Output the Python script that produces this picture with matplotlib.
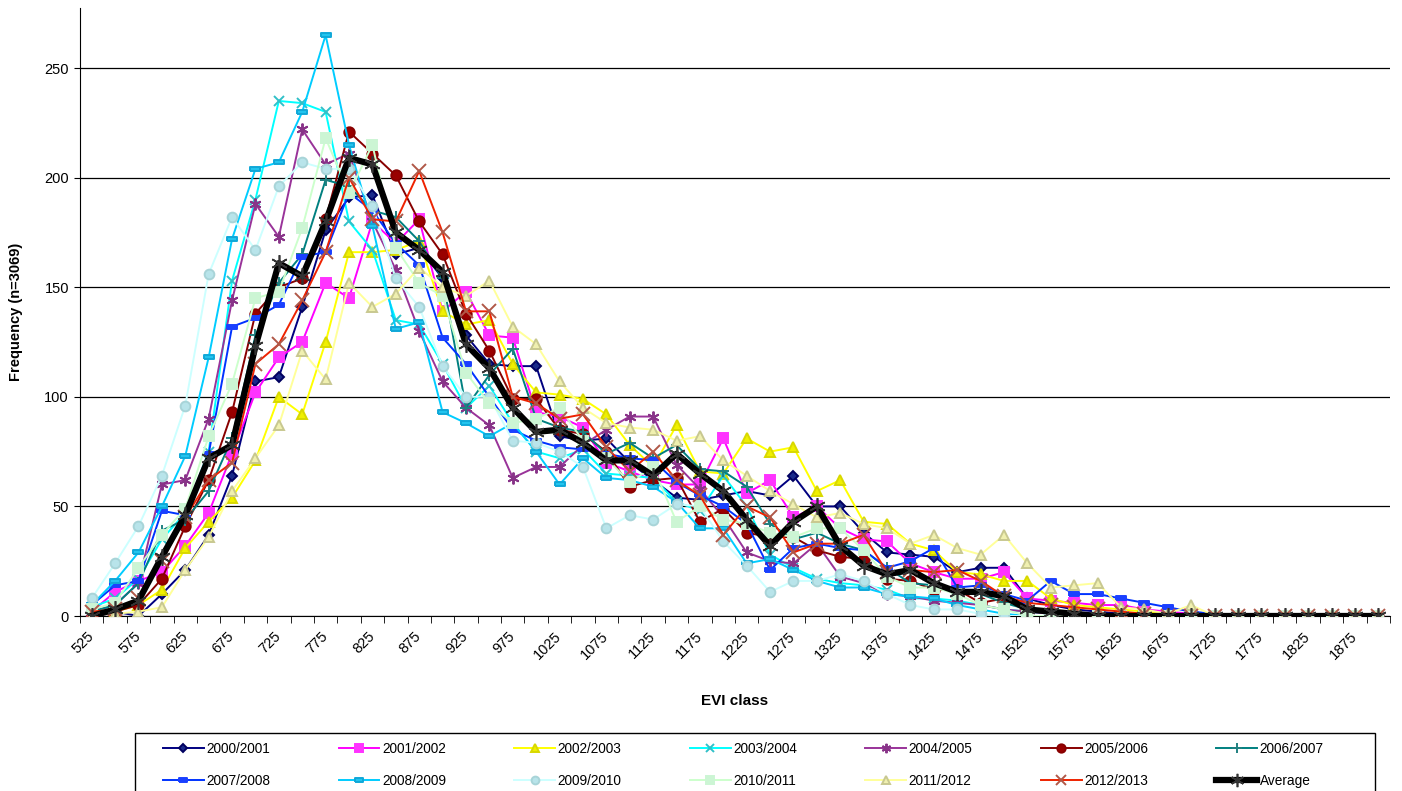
import numpy as np
import matplotlib
matplotlib.use("Agg")
import matplotlib.pyplot as plt
from matplotlib.patches import Rectangle

plt.rcParams['font.family'] = ['Liberation Sans', 'DejaVu Sans']

# EVI classes (categories on the x axis)
evi_class = list(range(525, 1925, 25))

y0001 = [0, 2, 0, 10, 21, 37, 64, 107, 109, 141,
         176, 191, 192, 165, 168, 154, 128, 115, 114, 114,
         82, 80, 81, 70, 62, 54, 53, 55, 57, 55,
         64, 50, 50, 38, 29, 28, 27, 20, 22, 22,
         8, 5, 3, 2, 1, 1, 0, 0, 0, 0,
         0, 0, 0, 0, 0, 0]
y0102 = [2, 11, 16, 20, 32, 47, 74, 102, 118, 125,
         152, 145, 180, 170, 181, 139, 148, 128, 127, 93,
         91, 86, 70, 66, 62, 60, 60, 81, 56, 62,
         45, 50, 40, 35, 34, 24, 20, 17, 17, 20,
         8, 7, 6, 5, 5, 3, 2, 1, 0, 0,
         0, 0, 0, 0, 0, 0]
y0203 = [0, 2, 5, 12, 31, 43, 54, 71, 100, 92,
         125, 166, 166, 167, 171, 139, 133, 135, 115, 102,
         101, 99, 92, 78, 68, 87, 66, 65, 81, 75,
         77, 57, 62, 43, 42, 33, 30, 20, 19, 16,
         16, 8, 5, 4, 3, 2, 1, 0, 0, 0,
         0, 0, 0, 0, 0, 0]
y0304 = [4, 8, 17, 35, 47, 75, 153, 190, 235, 234,
         230, 180, 167, 135, 133, 115, 95, 105, 88, 75,
         72, 76, 65, 64, 63, 52, 48, 64, 50, 28,
         22, 17, 15, 14, 12, 8, 8, 7, 5, 3,
         2, 1, 0, 0, 0, 0, 0, 0, 0, 0,
         0, 0, 0, 0, 0, 0]
y0405 = [2, 5, 15, 60, 62, 90, 144, 188, 173, 222,
         206, 211, 180, 158, 130, 107, 95, 87, 63, 68,
         68, 78, 85, 91, 91, 69, 58, 45, 29, 25,
         24, 33, 18, 15, 10, 9, 7, 6, 5, 3,
         2, 1, 0, 0, 0, 0, 0, 0, 0, 0,
         0, 0, 0, 0, 0, 0]
y0506 = [0, 2, 5, 17, 41, 62, 93, 138, 150, 154,
         181, 221, 211, 201, 180, 165, 138, 121, 99, 99,
         85, 83, 75, 59, 62, 63, 43, 49, 38, 36,
         36, 30, 27, 26, 17, 16, 12, 12, 6, 8,
         3, 2, 1, 0, 0, 0, 0, 0, 0, 0,
         0, 0, 0, 0, 0, 0]
y0607 = [2, 5, 15, 39, 44, 57, 81, 128, 152, 165,
         199, 196, 185, 182, 171, 154, 95, 110, 122, 90,
         86, 84, 74, 79, 72, 78, 67, 66, 59, 42,
         35, 38, 33, 30, 22, 15, 14, 11, 10, 6,
         3, 2, 1, 0, 0, 0, 0, 0, 0, 0,
         0, 0, 0, 0, 0, 0]
y0708 = [5, 14, 16, 48, 46, 74, 132, 136, 142, 164,
         166, 193, 185, 170, 160, 127, 115, 100, 85, 80,
         77, 76, 74, 72, 71, 61, 55, 50, 42, 21,
         31, 33, 31, 30, 22, 25, 31, 13, 14, 10,
         7, 16, 10, 10, 8, 6, 4, 2, 1, 0,
         0, 0, 0, 0, 0, 0]
y0809 = [5, 16, 29, 50, 73, 118, 172, 204, 207, 230,
         265, 215, 178, 131, 134, 93, 88, 82, 88, 75,
         60, 72, 63, 62, 59, 52, 40, 40, 24, 26,
         21, 16, 13, 13, 10, 9, 8, 5, 3, 1,
         0, 0, 0, 0, 0, 0, 0, 0, 0, 0,
         0, 0, 0, 0, 0, 0]
y0910 = [8, 24, 41, 64, 96, 156, 182, 167, 196, 207,
         204, 204, 187, 154, 141, 114, 100, 100, 80, 79,
         75, 68, 40, 46, 44, 51, 50, 34, 23, 11,
         16, 16, 19, 16, 10, 5, 3, 3, 1, 0,
         0, 0, 0, 0, 0, 0, 0, 0, 0, 0,
         0, 0, 0, 0, 0, 0]
y1011 = [3, 6, 22, 37, 49, 82, 106, 145, 148, 177,
         218, 193, 215, 168, 152, 146, 111, 97, 88, 90,
         95, 80, 72, 61, 68, 43, 50, 44, 42, 38,
         36, 40, 40, 30, 18, 13, 13, 10, 5, 3,
         0, 0, 0, 0, 0, 0, 0, 0, 0, 0,
         0, 0, 0, 0, 0, 0]
y1112 = [1, 1, 2, 4, 21, 36, 57, 72, 87, 121,
         108, 152, 141, 147, 159, 150, 146, 153, 132, 124,
         107, 95, 88, 86, 85, 80, 82, 71, 64, 57,
         51, 45, 47, 42, 40, 33, 37, 31, 28, 37,
         24, 13, 14, 15, 4, 3, 1, 5, 0, 0,
         0, 0, 0, 0, 0, 0]
y1213 = [2, 3, 8, 25, 45, 62, 70, 115, 124, 144,
         166, 200, 181, 180, 203, 175, 139, 139, 100, 97,
         90, 92, 77, 66, 75, 62, 55, 37, 50, 45,
         29, 33, 33, 37, 20, 21, 20, 21, 16, 9,
         6, 5, 4, 3, 2, 1, 0, 0, 0, 0,
         0, 0, 0, 0, 0, 0]
y_avg = [0, 3, 7, 27, 46, 72, 78, 123, 161, 155,
         180, 209, 206, 175, 167, 157, 124, 113, 95, 84,
         85, 79, 71, 71, 64, 74, 65, 57, 44, 32,
         43, 50, 32, 23, 19, 21, 15, 11, 11, 9,
         3, 2, 1, 0, 0, 0, 0, 0, 0, 0,
         0, 0, 0, 0, 0, 0]

rect = [(-1, -0.45), (1, -0.45), (1, 0.45), (-1, 0.45), (-1, -0.45)]
ast = (6, 2, 0)

# label, values, line colour, marker, marker face, marker edge, marker size
series = [
    ("2000/2001", y0001, "#000080", "D", "#1a2a8a", "#000060", 5.5),
    ("2001/2002", y0102, "#ff00ff", "s", "#ff33ff", "#ff33ff", 7),
    ("2002/2003", y0203, "#ffff00", "^", "#f0f000", "#d8d800", 7.5),
    ("2003/2004", y0304, "#00ffff", "x", "#30c0c8", "#30c0c8", 7),
    ("2004/2005", y0405, "#993399", ast, "#883388", "#883388", 8.5),
    ("2005/2006", y0506, "#880000", "o", "#990000", "#880000", 7.5),
    ("2006/2007", y0607, "#008080", "+", "#208080", "#208080", 8.5),
    ("2007/2008", y0708, "#0033ff", rect, "#1a40ff", "#1a40ff", 6.5),
    ("2008/2009", y0809, "#00ccff", rect, "#22c4ee", "#10a8d8", 7.5),
    ("2009/2010", y0910, "#ccffff", "o", "#b8e4ea", "#a8d4d8", 7),
    ("2010/2011", y1011, "#ccffcc", "s", "#ccf5d4", "#ccf5d4", 7.5),
    ("2011/2012", y1112, "#ffff99", "^", "#f0f0b0", "#c8c890", 7.5),
    ("2012/2013", y1213, "#ee2200", "x", "#b05848", "#b05848", 9.5),
]

fig = plt.figure(figsize=(14.02, 7.91), dpi=100)
ax = fig.add_axes([80 / 1402, 1 - 616 / 791, 1310 / 1402, 608 / 791])

x = np.arange(len(evi_class))
handles = []
for lab, vals, col, mk, mfc, mec, ms in series:
    h, = ax.plot(x, vals, color=col, lw=1.4, marker=mk, ms=ms,
                 mfc=mfc, mec=mec, mew=1.4, label=lab, zorder=3)
    handles.append(h)
h, = ax.plot(x, y_avg, color="black", lw=4.5, marker=ast, ms=12,
             mfc="#333333", mec="#333333", mew=1.2, label="Average", zorder=5)
handles.append(h)

ax.set_xlim(-0.5, len(evi_class) - 0.5)
ax.set_ylim(0, 277.4)
ax.set_yticks([0, 50, 100, 150, 200, 250])
ax.yaxis.grid(True, color="black", lw=0.9)
ax.set_axisbelow(True)
for s in ["top", "right"]:
    ax.spines[s].set_visible(False)
ax.spines["left"].set_color("black")
ax.spines["bottom"].set_color("black")

ax.set_xticks(x[::2])
ax.set_xticklabels([str(v) for v in evi_class[::2]], rotation=45,
                   ha="right", va="center", rotation_mode="anchor", fontsize=10.5)
ax.set_xticks(np.arange(-0.5, len(evi_class), 1), minor=True)
ax.tick_params(axis="x", which="major", length=0, pad=13)
ax.tick_params(axis="x", which="minor", length=5, direction="out", color="black")
ax.tick_params(axis="y", length=4, labelsize=10.5, pad=4)

ax.set_ylabel("Frequency (n=3069)", fontsize=10.5, fontweight="bold")
ax.yaxis.set_label_coords(-57 / 1310, 0.5)
ax.set_xlabel("EVI class", fontsize=11, fontweight="bold")
ax.xaxis.set_label_coords(0.5, -(694 - 616) / 608)

# legend box, cut off at the bottom edge like the original
fig.add_artist(Rectangle((135 / 1402, -0.05), (1375 - 135) / 1402,
                         0.05 + 1 - 733 / 791, transform=fig.transFigure,
                         fill=False, edgecolor="black", lw=1, clip_on=False))
order = []
for j in range(7):
    order += [handles[j], handles[j + 7]]
fig.legend(order, [hh.get_label() for hh in order], ncol=7, loc="upper left",
           bbox_to_anchor=(163 / 1402, 1 - 742 / 791), frameon=False,
           fontsize=9.8, handlelength=3.0, handletextpad=0.2,
           columnspacing=5.0, labelspacing=1.3, borderpad=0, borderaxespad=0,
           markerscale=0.8)

fig.savefig("out.png", dpi=100)
